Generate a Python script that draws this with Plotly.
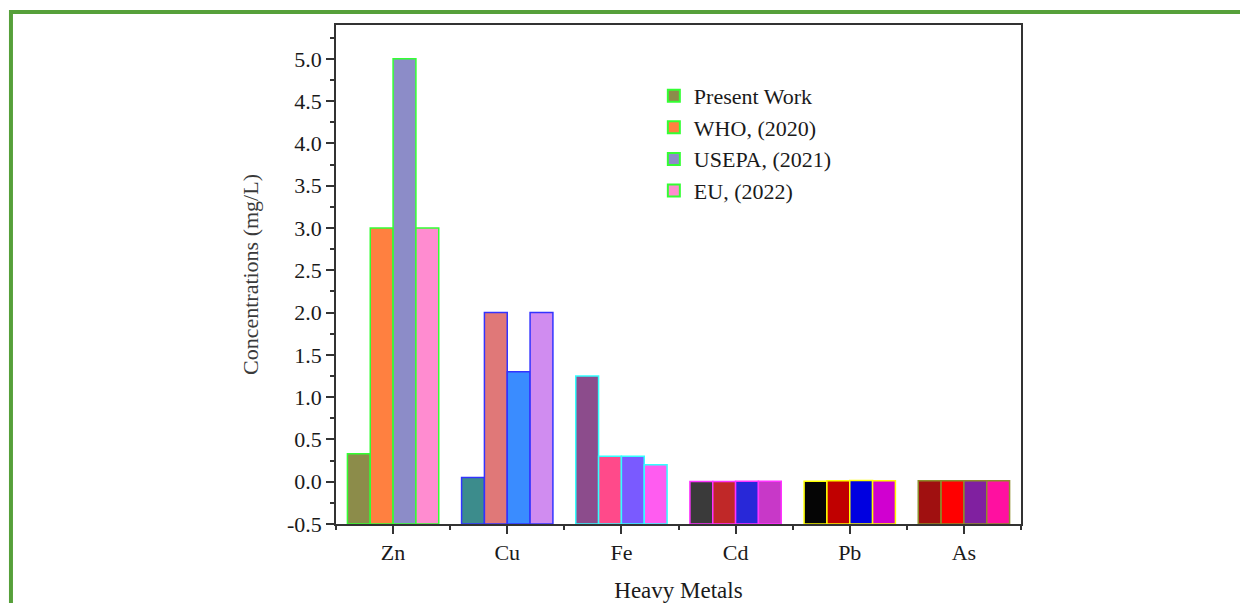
import plotly.graph_objects as go

metals = ["Zn", "Cu", "Fe", "Cd", "Pb", "As"]
series_names = ["Present Work", "WHO, (2020)", "USEPA, (2021)", "EU, (2022)"]
present_work = [0.33, 0.05, 1.25, 0.003, 0.005, 0.01]
who_2020 = [3.0, 2.0, 0.3, 0.003, 0.01, 0.01]
usepa_2021 = [5.0, 1.3, 0.3, 0.005, 0.015, 0.01]
eu_2022 = [3.0, 2.0, 0.2, 0.005, 0.01, 0.01]
series_values = [present_work, who_2020, usepa_2021, eu_2022]

y_tick_vals = [-0.5, 0.0, 0.5, 1.0, 1.5, 2.0, 2.5, 3.0, 3.5, 4.0, 4.5, 5.0]
y_tick_labels = ["-0.5", "0.0", "0.5", "1.0", "1.5", "2.0", "2.5", "3.0", "3.5", "4.0", "4.5", "5.0"]

axis_base = -0.5

fill_colors = [
    ["#8c8c4a", "#3c8c8c", "#8c4c8c", "#3a3a3a", "#050505", "#a01010"],
    ["#ff8040", "#e07878", "#ff4a8a", "#c02828", "#c00000", "#ff0000"],
    ["#8c8cc8", "#3a8cff", "#7a5aff", "#2828d8", "#0000e0", "#8020a0"],
    ["#ff8cd0", "#d08cf0", "#ff5cf0", "#c838c8", "#d000d0", "#ff10a0"],
]
outline_colors = ["#33ff33", "#3333ff", "#33ffff", "#ff33ff", "#ffff00", "#8c8c2a"]

font_family = "Liberation Serif"
text_color = "#1a1a1a"

fig = go.Figure()
for name, vals, cols in zip(series_names, series_values, fill_colors):
    fig.add_trace(go.Bar(
        x=metals,
        y=[v - axis_base for v in vals],
        base=axis_base,
        name=name,
        marker=dict(color=cols, line=dict(color=outline_colors, width=1.5)),
        customdata=vals,
        hovertemplate="%{x}: %{customdata}<extra>" + name + "</extra>",
    ))

axis_color = "#333333"
fig.update_layout(
    width=1240, height=595,
    margin=dict(l=328, r=227, t=17, b=79),
    paper_bgcolor="white", plot_bgcolor="white",
    barmode="group", bargap=0.2, bargroupgap=0.0,
    font=dict(family=font_family, color=text_color, size=22),
    showlegend=True,
    legend=dict(
        x=0.464, y=0.9, xanchor="left", yanchor="top",
        bgcolor="rgba(0,0,0,0)", borderwidth=0,
        font=dict(family=font_family, size=22, color=text_color),
        tracegroupgap=0, itemsizing="constant",
    ),
    xaxis=dict(
        range=[-0.5, 5.5], automargin=False,
        showline=True, linecolor=axis_color, linewidth=1.5, mirror=True,
        ticks="outside", ticklen=8, tickwidth=1.5, tickcolor=axis_color,
        minor=dict(ticks="outside", ticklen=4, tickwidth=1.5, tickcolor=axis_color,
                   tickmode="array", tickvals=[-0.5, 0.5, 1.5, 2.5, 3.5, 4.5, 5.5]),
        showgrid=False, zeroline=False,
        tickfont=dict(family=font_family, size=22, color=text_color),
        title=dict(text="Heavy Metals", standoff=18,
                   font=dict(family=font_family, size=23, color=text_color)),
    ),
    yaxis=dict(
        range=[-0.5, 5.4], automargin=False,
        showline=True, linecolor=axis_color, linewidth=1.5, mirror=True,
        ticks="outside", ticklen=8, tickwidth=1.5, tickcolor=axis_color,
        tickmode="array", tickvals=y_tick_vals, ticktext=y_tick_labels,
        minor=dict(ticks="outside", ticklen=4, tickwidth=1.5, tickcolor=axis_color,
                   tickmode="linear", tick0=-0.5, dtick=0.25),
        showgrid=False, zeroline=False,
        tickfont=dict(family=font_family, size=22, color=text_color),
        title=dict(text="Concentrations (mg/L)", standoff=22,
                   font=dict(family=font_family, size=22, color="#3a3a3a")),
    ),
    shapes=[
        dict(type="line", xref="paper", yref="paper",
             x0=-0.4745, x1=1.35, y0=1.026, y1=1.026,
             line=dict(color="#56a03a", width=4)),
        dict(type="line", xref="paper", yref="paper",
             x0=-0.4745, x1=-0.4745, y0=1.03, y1=-0.2,
             line=dict(color="#56a03a", width=4)),
    ],
)

fig.write_html("out.html")
